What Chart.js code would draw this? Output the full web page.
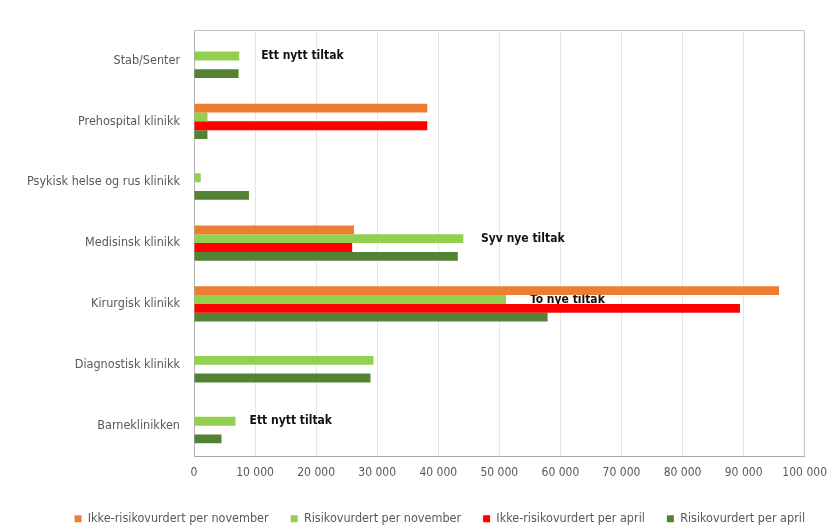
<!DOCTYPE html>
<html>
<head>
<meta charset="utf-8">
<script src="https://cdn.jsdelivr.net/npm/chart.js@4/dist/chart.umd.min.js"></script>
<style>
  html, body { margin: 0; padding: 0; background: #fff; }
  #wrap { width: 837px; height: 528px; position: relative; }
</style>
</head>
<body>
<div id="wrap"><canvas id="grafico"></canvas></div>
<script>
// Klinikker (y-aksen)
const klinikker = [
  'Stab/Senter',
  'Prehospital klinikk',
  'Psykisk helse og rus klinikk',
  'Medisinsk klinikk',
  'Kirurgisk klinikk',
  'Diagnostisk klinikk',
  'Barneklinikken'
];

// Antall per serie
const ikkeRisikoNov = [0, 38200, 0, 26200, 95800, 0, 0];
const risikoNov     = [7400, 2200, 1100, 44100, 51100, 29400, 6800];
const ikkeRisikoApr = [0, 38200, 0, 25900, 89400, 0, 0];
const risikoApr     = [7300, 2200, 9000, 43200, 57900, 28900, 4500];

// Akse-ticks
const xTicks = [0, 10000, 20000, 30000, 40000, 50000, 60000, 70000, 80000, 90000, 100000];

// Tekst ved stolpene (klinikk-indeks og x-verdi der teksten starter)
const tiltakTekst = ['Ett nytt tiltak', 'Syv nye tiltak', 'To nye tiltak', 'Ett nytt tiltak'];
const tiltakKlinikk = [0, 3, 4, 6];
const tiltakX = [11000, 47000, 55000, 9100];

const fontFam = '"Liberation Sans Narrow", "DejaVu Sans Condensed", "Liberation Sans", sans-serif';

function formaterTall(v) {
  return String(v).replace(/\B(?=(\d{3})+(?!\d))/g, ' ');
}

// Ramme rundt plottet
const ramme = {
  id: 'ramme',
  beforeDatasetsDraw(chart) {
    const a = chart.chartArea;
    const ctx = chart.ctx;
    ctx.save();
    ctx.strokeStyle = '#c4c4c4';
    ctx.lineWidth = 1;
    ctx.beginPath();
    ctx.moveTo(a.left, a.top + 0.5);
    ctx.lineTo(a.right - 0.5, a.top + 0.5);
    ctx.lineTo(a.right - 0.5, a.bottom);
    ctx.stroke();
    ctx.restore();
  }
};

// Tekstene om nye tiltak, tegnet bak stolpene
const tiltak = {
  id: 'tiltak',
  beforeDatasetsDraw(chart) {
    const ctx = chart.ctx;
    const xs = chart.scales.x;
    const meta = chart.getDatasetMeta(1);
    ctx.save();
    ctx.font = 'bold 12px ' + fontFam;
    ctx.fillStyle = '#111';
    ctx.textAlign = 'left';
    ctx.textBaseline = 'middle';
    tiltakTekst.forEach((t, i) => {
      const bar = meta.data[tiltakKlinikk[i]];
      ctx.fillText(t, xs.getPixelForValue(tiltakX[i]), bar.y);
    });
    ctx.restore();
  }
};

new Chart(document.getElementById('grafico'), {
  type: 'bar',
  data: {
    labels: klinikker,
    datasets: [
      { label: 'Ikke-risikovurdert per november', data: ikkeRisikoNov, backgroundColor: '#ED7D31' },
      { label: 'Risikovurdert per november', data: risikoNov, backgroundColor: '#92D050' },
      { label: 'Ikke-risikovurdert per april', data: ikkeRisikoApr, backgroundColor: '#FF0000' },
      { label: 'Risikovurdert per april', data: risikoApr, backgroundColor: '#548235' }
    ]
  },
  options: {
    indexAxis: 'y',
    responsive: true,
    maintainAspectRatio: false,
    animation: false,
    categoryPercentage: 0.58,
    barPercentage: 1.0,
    layout: { padding: { top: 30, right: 10, left: 0, bottom: -7 } },
    scales: {
      x: {
        min: 0,
        max: 100000,
        afterBuildTicks(scale) { scale.ticks = xTicks.map(v => ({ value: v })); },
        grid: { color: '#e6e6e6', drawTicks: false },
        border: { color: '#a8a8a8' },
        ticks: {
          color: '#595959',
          font: { family: fontFam, size: 12 },
          padding: 10,
          maxRotation: 0,
          callback: v => formaterTall(v)
        }
      },
      y: {
        afterFit(scale) { scale.width = 194; },
        grid: { display: false, drawTicks: false },
        border: { color: '#b0b0b0' },
        ticks: {
          color: '#595959',
          font: { family: fontFam, size: 12.5 },
          padding: 14
        }
      }
    },
    plugins: {
      legend: {
        position: 'bottom',
        align: 'end',
        labels: {
          boxWidth: 7,
          boxHeight: 7,
          padding: 22,
          color: '#595959',
          font: { family: fontFam, size: 12.5 }
        }
      },
      tooltip: { enabled: false }
    }
  },
  plugins: [ramme, tiltak]
});
</script>
</body>
</html>
